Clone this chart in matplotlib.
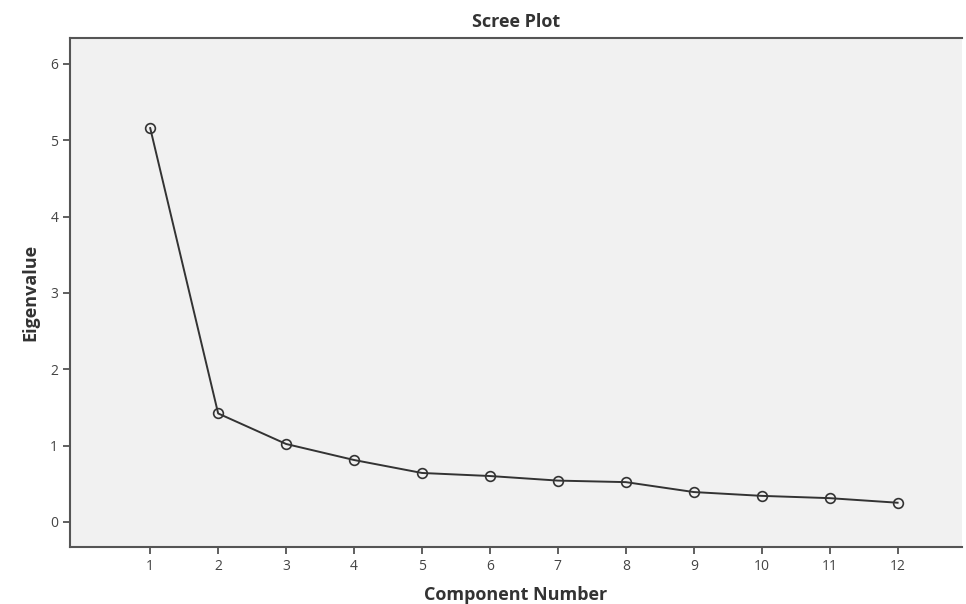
import matplotlib.pyplot as plt
import numpy as np

# Scree plot data
components = np.arange(1, 13)
eigenvalues = [5.16, 1.42, 1.02, 0.81, 0.64, 0.60, 0.54, 0.52, 0.39, 0.34, 0.31, 0.25]
y_ticks = [0, 1, 2, 3, 4, 5, 6]

plt.rcParams["font.family"] = ["Open Sans", "DejaVu Sans"]

fig = plt.figure(figsize=(9.66, 6.04), dpi=100)
ax = fig.add_axes([0.0725, 0.0944, 0.9235, 0.8426])
ax.set_facecolor("#f1f1f1")

ax.plot(components, eigenvalues, color="#333333", linewidth=1.4,
        marker="o", markersize=7, markerfacecolor="none",
        markeredgecolor="#333333", markeredgewidth=1.2)

ax.set_xlim(-0.18, 12.95)
ax.set_ylim(-0.33, 6.34)
ax.set_xticks(components)
ax.set_yticks(y_ticks)
ax.tick_params(axis="both", labelsize=10, colors="#444444", length=5, width=1.2)

for side in ["left", "bottom", "top"]:
    ax.spines[side].set_color("#555555")
    ax.spines[side].set_linewidth(1.5)
ax.spines["right"].set_visible(False)

ax.set_title("Scree Plot", fontsize=13, fontweight="bold", color="#333333", pad=8)
ax.set_xlabel("Component Number", fontsize=13, fontweight="bold", color="#333333", labelpad=9)
ax.set_ylabel("Eigenvalue", fontsize=13, fontweight="bold", color="#333333", labelpad=8)

fig.savefig("out.png", dpi=100)
